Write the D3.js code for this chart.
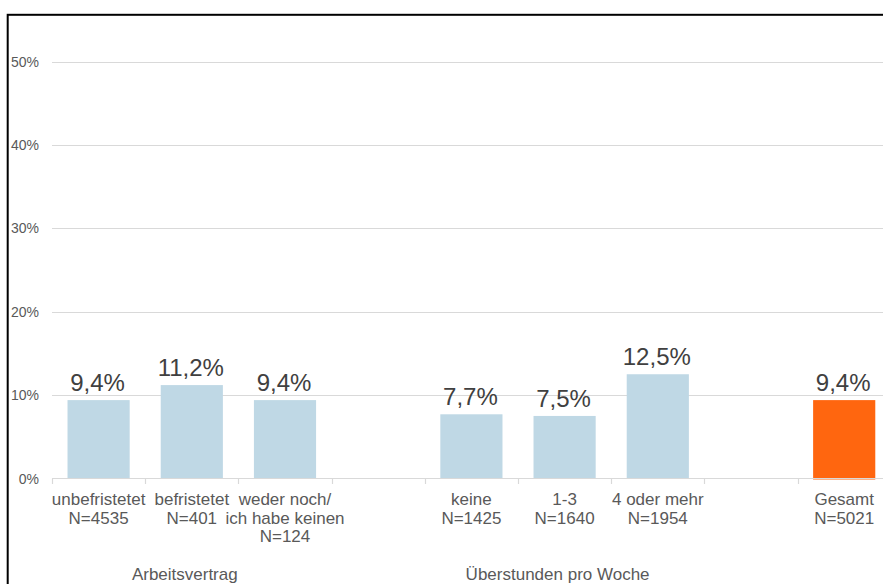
<!DOCTYPE html>
<html>
<head>
<meta charset="utf-8">
<script src="https://cdn.jsdelivr.net/npm/d3@7"></script>
<style>
  html, body { margin: 0; padding: 0; background: #fff; }
  svg { display: block; font-family: "Liberation Sans", Arial, sans-serif; }
</style>
</head>
<body>
<svg id="chart" width="883" height="584"></svg>
<script>
const categories = ["unbefristetet", "befristetet", "weder noch/\nich habe keinen", "gap1", "keine", "1-3", "4 oder mehr", "gap2", "Gesamt"];
const sampleSizes = ["N=4535", "N=401", "N=124", "", "N=1425", "N=1640", "N=1954", "", "N=5021"];
const values = [9.4, 11.2, 9.4, null, 7.7, 7.5, 12.5, null, 9.4];
const highlight = [false, false, false, false, false, false, false, false, true];
const yTicks = [0, 10, 20, 30, 40, 50];
const groupLabels = ["Arbeitsvertrag", "Überstunden pro Woche"];
const groupCenters = ["befristetet", "1-3"];

const svg = d3.select("#chart");
const x = d3.scaleBand().domain(categories).range([52, 52 + 9 * 93.2]).padding(0);
const y = d3.scaleLinear().domain([0, 50]).range([478.5, 61.5]);
const barW = x.bandwidth() * 0.667;
const fmt = v => String(v.toFixed(1)).replace(".", ",") + "%";

// frame
svg.append("rect").attr("x", 7.7).attr("y", 14.8).attr("width", 1000).attr("height", 1000)
  .attr("fill", "none").attr("stroke", "#000").attr("stroke-width", 2);

// gridlines
svg.append("g").selectAll("line").data(yTicks.filter(t => t > 0)).join("line")
  .attr("x1", 52).attr("x2", 900)
  .attr("y1", d => Math.round(y(d)) + 0.5).attr("y2", d => Math.round(y(d)) + 0.5)
  .attr("stroke", "#d9d9d9").attr("stroke-width", 1.2);

// y tick labels
svg.append("g").selectAll("text").data(yTicks).join("text")
  .attr("x", 39).attr("y", d => y(d) + 5)
  .attr("text-anchor", "end").attr("font-size", 14).attr("fill", "#595959")
  .text(d => d + "%");

// bars
const data = categories.map((c, i) => ({ c, v: values[i], h: highlight[i], n: sampleSizes[i] }));
svg.append("g").selectAll("rect").data(data.filter(d => d.v != null)).join("rect")
  .attr("x", d => x(d.c) + (x.bandwidth() - barW) / 2)
  .attr("width", barW)
  .attr("y", d => y(d.v))
  .attr("height", d => y(0) - y(d.v) + (d.h ? 1 : 0))
  .attr("fill", d => d.h ? "#ff660f" : "#bfd8e5");

// x axis line and boundary ticks
svg.append("line").attr("x1", 52).attr("x2", 900).attr("y1", 478.5).attr("y2", 478.5)
  .attr("stroke", "#d9d9d9").attr("stroke-width", 1.2);
const bounds = categories.map(c => x(c)).concat([x.range()[1]]);
svg.append("g").selectAll("line").data(bounds).join("line")
  .attr("x1", d => Math.round(d) + 0.5).attr("x2", d => Math.round(d) + 0.5)
  .attr("y1", 478.5).attr("y2", 484)
  .attr("stroke", "#d9d9d9").attr("stroke-width", 1.2);

// value labels
svg.append("g").selectAll("text").data(data.filter(d => d.v != null)).join("text")
  .attr("x", d => x(d.c) + x.bandwidth() / 2 - 1)
  .attr("y", d => y(d.v) - 9)
  .attr("text-anchor", "middle").attr("font-size", 24).attr("fill", "#404040")
  .text(d => fmt(d.v));

// category labels
const catG = svg.append("g").selectAll("text").data(data.filter(d => d.v != null)).join("text")
  .attr("text-anchor", "middle").attr("font-size", 17).attr("fill", "#595959");
catG.each(function(d) {
  const lines = d.c.split("\n").concat([d.n]);
  const t = d3.select(this);
  lines.forEach((l, i) => {
    t.append("tspan").attr("x", x(d.c) + x.bandwidth() / 2).attr("y", 505 + i * 18.5).text(l);
  });
});

// group labels
svg.append("g").selectAll("text").data(groupLabels).join("text")
  .attr("x", (d, i) => x(groupCenters[i]) + x.bandwidth() / 2 - 7)
  .attr("y", 580)
  .attr("text-anchor", "middle").attr("font-size", 17).attr("fill", "#595959")
  .text(d => d);
</script>
</body>
</html>
